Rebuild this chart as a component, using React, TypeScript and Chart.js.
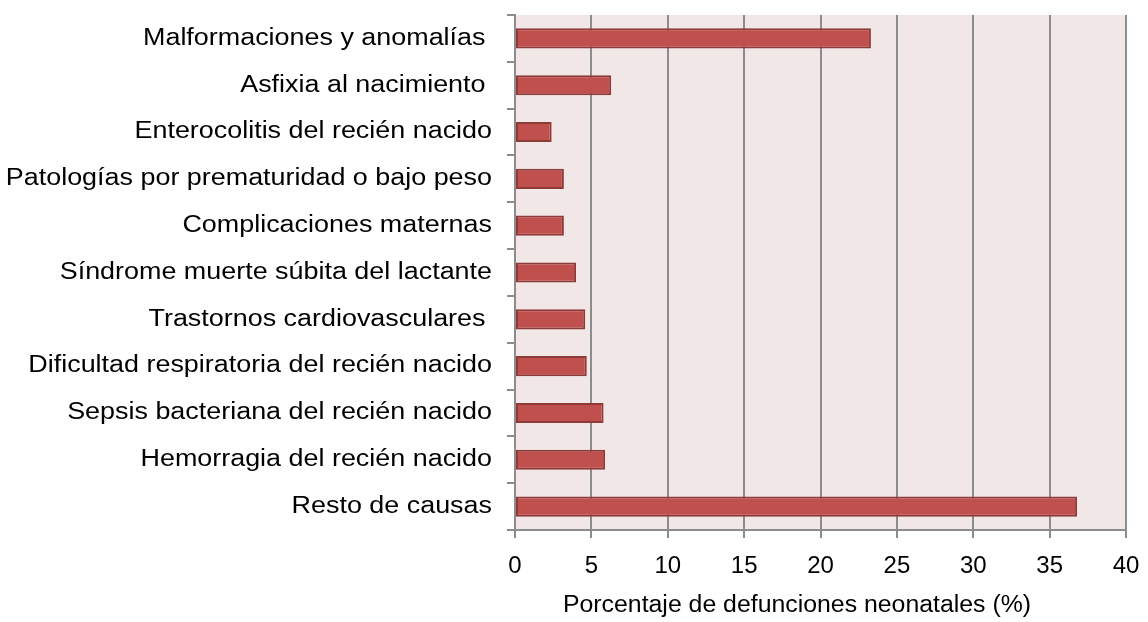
import React, { useEffect, useRef } from "react";
import { Chart, registerables } from "chart.js";

Chart.register(...registerables);

const categories = [
  "Malformaciones y anomalías ",
  "Asfixia al nacimiento ",
  "Enterocolitis del recién nacido",
  "Patologías por prematuridad o bajo peso",
  "Complicaciones maternas",
  "Síndrome muerte súbita del lactante",
  "Trastornos cardiovasculares ",
  "Dificultad respiratoria del recién nacido",
  "Sepsis bacteriana del recién nacido",
  "Hemorragia del recién nacido",
  "Resto de causas",
];
const values = [23.3, 6.3, 2.4, 3.2, 3.2, 4.0, 4.6, 4.7, 5.8, 5.9, 36.8];
const xTitle = "Porcentaje de defunciones neonatales (%)";
const xMin = 0;
const xMax = 40;
const xStep = 5;

const FONT = "'Liberation Sans', Arial, sans-serif";

export default function App() {
  const ref = useRef<HTMLCanvasElement | null>(null);
  useEffect(() => {
    document.body.style.margin = "0";
    const ctx = ref.current!.getContext("2d")!;
    const bgPlugin = {
      id: "bgArea",
      beforeDraw(chart: any) {
        const { ctx, chartArea } = chart;
        ctx.save();
        ctx.fillStyle = "#F2E7E7";
        ctx.fillRect(chartArea.left, chartArea.top, chartArea.right - chartArea.left, chartArea.bottom - chartArea.top);
        ctx.restore();
      },
      afterDraw(chart: any) {
        const { ctx } = chart;
        const yScale = chart.scales.y;
        ctx.save();
        ctx.fillStyle = "#000";
        ctx.textBaseline = "middle";
        ctx.font = `23px ${FONT}`;
        ctx.textAlign = "right";
        const sx = 1.17;
        const labelRight = 492;
        categories.forEach((c, i) => {
          const y = yScale.getPixelForValue(i);
          const trimmed = c.replace(/\s+$/, "");
          ctx.save();
          ctx.translate(labelRight, y);
          ctx.scale(sx, 1);
          ctx.fillText(trimmed, -((c.length - trimmed.length) * 6.5) / sx, 0);
          ctx.restore();
        });
        ctx.font = `23px ${FONT}`;
        ctx.textAlign = "center";
        ctx.save();
        ctx.translate(797, 606);
        ctx.scale(1.08, 1);
        ctx.fillText(xTitle, 0, 0);
        ctx.restore();
        ctx.restore();
      },
    };
    const chart = new Chart(ctx, {
      type: "bar",
      data: {
        labels: categories,
        datasets: [
          {
            data: values,
            backgroundColor: "#C0504D",
            borderColor: "#8E3A38",
            borderWidth: 2,
            borderSkipped: false,
            barPercentage: 0.43,
            categoryPercentage: 1,
          },
        ],
      },
      options: {
        indexAxis: "y",
        animation: false,
        responsive: false,
        maintainAspectRatio: false,
        layout: { padding: { top: 15, right: 22, left: 0, bottom: 0 } },
        plugins: { legend: { display: false }, tooltip: { enabled: false } },
        scales: {
          x: {
            min: xMin,
            max: xMax,
            ticks: { stepSize: xStep, color: "#000", font: { family: FONT, size: 24 }, padding: 14 },
            grid: { color: "#8C8C8C", lineWidth: 2, tickLength: 8, drawTicks: true },
            border: { display: true, color: "#8C8C8C", width: 2 },
            afterFit(scale: any) {
              scale.height = 92;
              scale.paddingLeft = 0;
              scale.paddingRight = 0;
            },
          },
          y: {
            offset: true,
            ticks: { display: false, autoSkip: false },
            grid: { offset: true, drawOnChartArea: false, color: "#8C8C8C", lineWidth: 2, tickLength: 8 },
            border: { display: true, color: "#8C8C8C", width: 2 },
            afterFit(scale: any) {
              scale.width = 515;
              scale.paddingTop = 0;
              scale.paddingBottom = 0;
            },
          },
        },
      },
      plugins: [bgPlugin],
    });
    return () => chart.destroy();
  }, []);
  return (
    <div style={{ width: 1148, height: 622 }}>
      <canvas ref={ref} width={1148} height={622} style={{ display: "block" }} />
    </div>
  );
}
